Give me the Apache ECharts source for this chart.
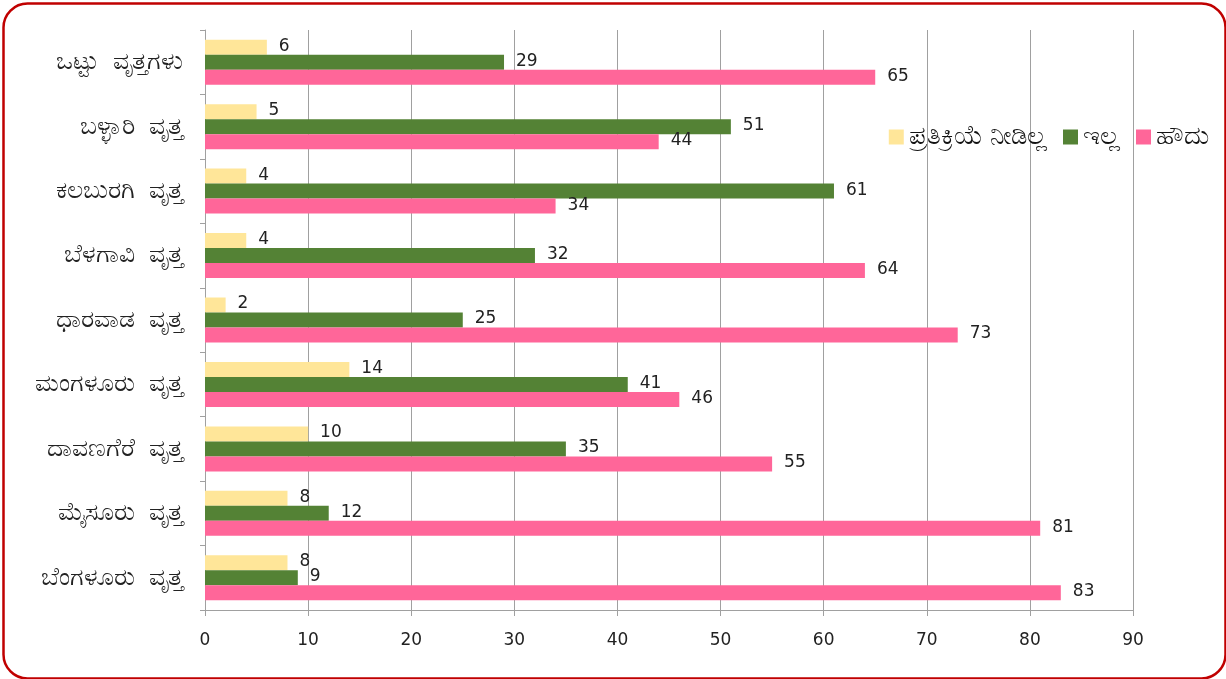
<!DOCTYPE html>
<html>
<head>
<meta charset="utf-8">
<script src="https://cdn.jsdelivr.net/npm/echarts@6/dist/echarts.min.js"></script>
<style>
  html, body { margin: 0; padding: 0; background: #fff; }
  #main { width: 1226px; height: 679px; }
</style>
</head>
<body>
<div id="main"></div>
<script>
// categories, bottom to top as on the value axis
var circles = ['ಬೆಂಗಳೂರು  ವೃತ್ತ', 'ಮೈಸೂರು  ವೃತ್ತ', 'ದಾವಣಗೆರೆ  ವೃತ್ತ', 'ಮಂಗಳೂರು  ವೃತ್ತ',
  'ಧಾರವಾಡ  ವೃತ್ತ', 'ಬೆಳಗಾವಿ  ವೃತ್ತ', 'ಕಲಬುರಗಿ  ವೃತ್ತ', 'ಬಳ್ಳಾರಿ  ವೃತ್ತ', 'ಒಟ್ಟು  ವೃತ್ತಗಳು'];
var seriesNames = ['ಪ್ರತಿಕ್ರಿಯೆ ನೀಡಿಲ್ಲ', 'ಇಲ್ಲ', 'ಹೌದು'];
var noReply = [8, 8, 10, 14, 2, 4, 4, 5, 6];
var no = [9, 12, 35, 41, 25, 32, 61, 51, 29];
var yes = [83, 81, 55, 46, 73, 64, 34, 44, 65];
var xTicks = [0, 90, 10]; // min, max, step

var colors = ['#ffe699', '#548235', '#ff6699'];
var labelFont = '"DejaVu Sans", sans-serif';

var myChart = echarts.init(document.getElementById('main'));

function mkSeries(name, data, color) {
    return {
        name: name,
        type: 'bar',
        data: data,
        barWidth: 15,
        barGap: '0%',
        itemStyle: { color: color },
        label: {
            show: true,
            position: 'right',
            distance: 12,
            offset: [0, -1],
            color: '#222',
            fontSize: 17,
            fontFamily: labelFont
        }
    };
}

myChart.setOption({
    animation: false,
    graphic: [{
        type: 'rect',
        left: 1, top: 1,
        shape: { width: 1222, height: 675, r: 24 },
        style: { fill: 'none', stroke: '#c00000', lineWidth: 2.5 },
        z: 100
    }],
    legend: {
        right: 12,
        top: 119,
        data: seriesNames,
        itemWidth: 15,
        itemHeight: 15,
        itemGap: 16,
        icon: 'rect',
        textStyle: { fontSize: 26, color: '#111', fontFamily: 'sans-serif' }
    },
    grid: { left: 205, right: 93, top: 30, bottom: 69 },
    xAxis: {
        type: 'value',
        min: xTicks[0],
        max: xTicks[1],
        interval: xTicks[2],
        axisLine: { show: true, lineStyle: { color: '#a0a0a0' } },
        axisTick: { show: true, length: 6, lineStyle: { color: '#a0a0a0' } },
        splitLine: { show: true, lineStyle: { color: '#a0a0a0', width: 1 } },
        axisLabel: { color: '#222', fontSize: 17, margin: 22, fontFamily: labelFont }
    },
    yAxis: {
        type: 'category',
        data: circles,
        axisLine: { show: true, lineStyle: { color: '#a0a0a0' } },
        axisTick: { show: true, length: 5, lineStyle: { color: '#a0a0a0' } },
        axisLabel: { color: '#222', fontSize: 25, margin: 22, fontFamily: 'sans-serif' }
    },
    series: [
        mkSeries(seriesNames[0], noReply, colors[0]),
        mkSeries(seriesNames[1], no, colors[1]),
        mkSeries(seriesNames[2], yes, colors[2])
    ]
});
</script>
</body>
</html>
